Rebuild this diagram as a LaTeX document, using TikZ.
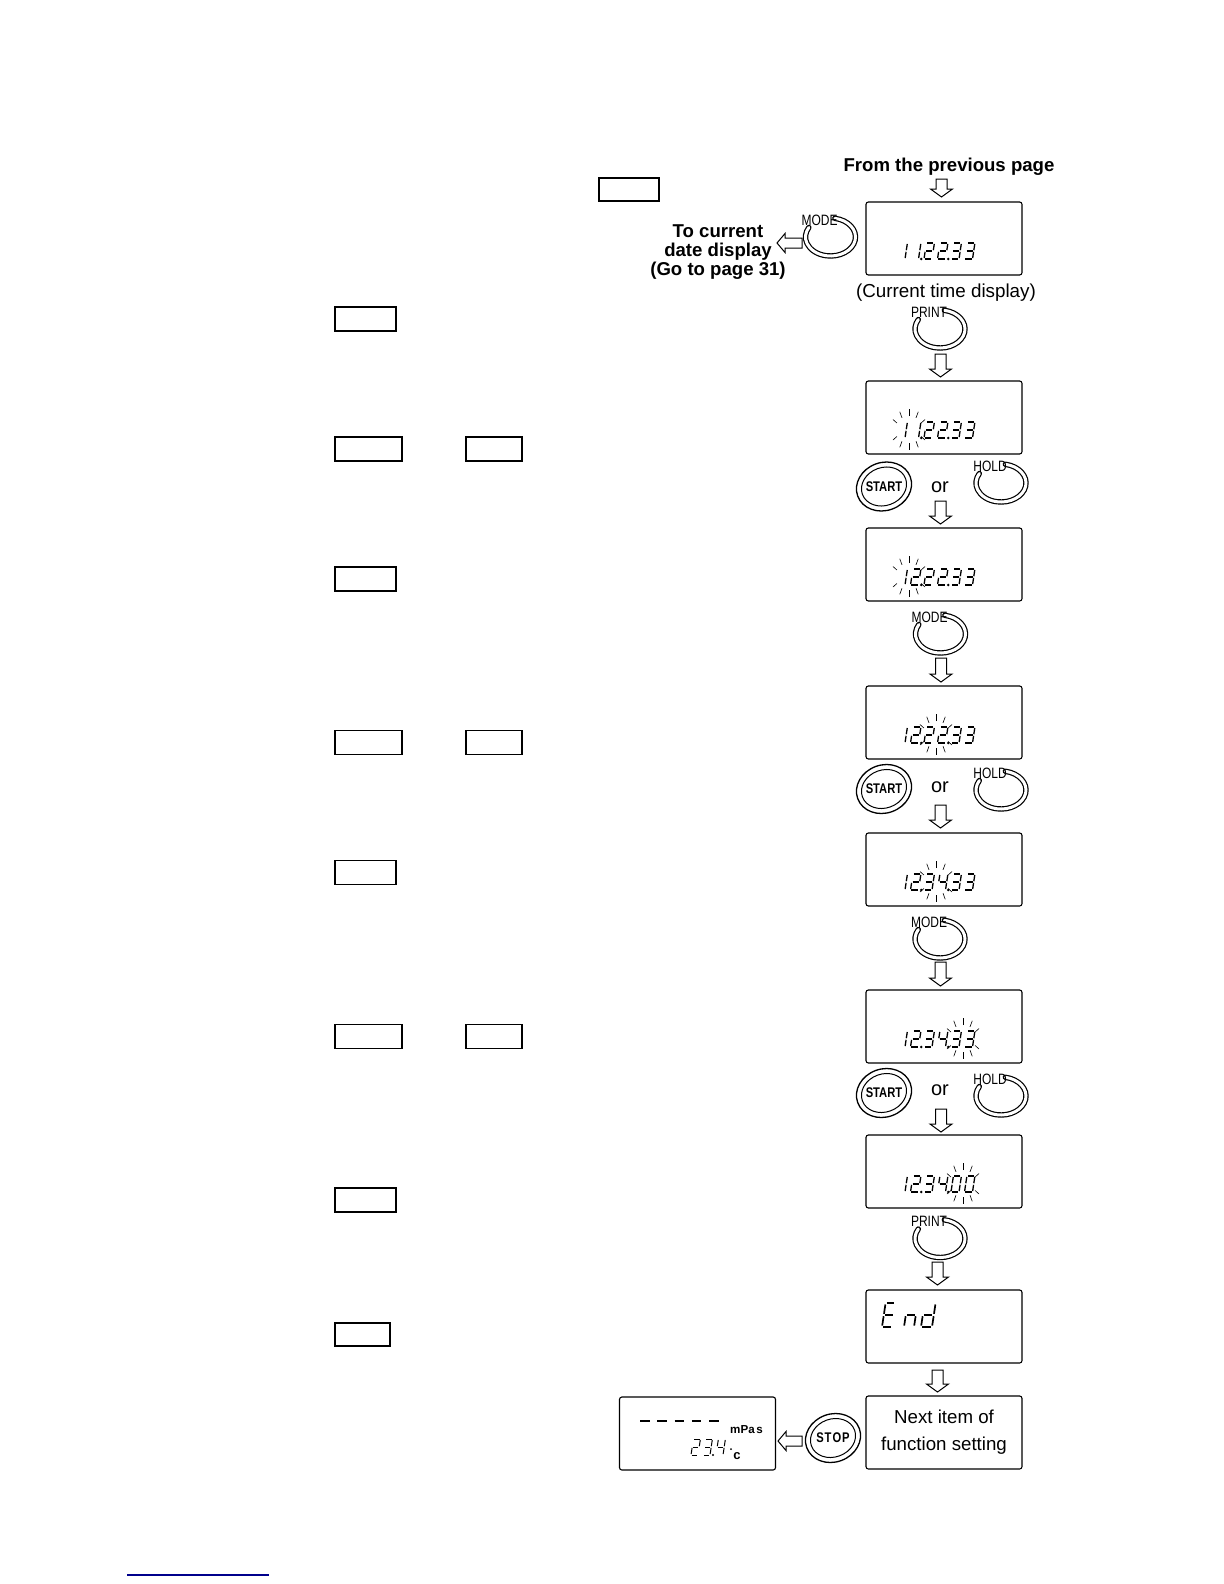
\documentclass[tikz,border=0pt]{standalone}
\usepackage{fontspec}
\setmainfont{Liberation Sans}
\usepackage{graphicx}
\usetikzlibrary{calc}
\definecolor{linkblue}{RGB}{0,0,140}
\tikzset{
 disp/.style={draw, line width=0.55pt, rounded corners=1.2pt, minimum width=78pt, minimum height=36.5pt, inner sep=0pt},
 ebox/.style={draw, line width=0.6pt, inner sep=0pt},
 blk/.style={draw, line width=0.5pt, fill=white, line join=miter},
 ringline/.style={double=white, double distance=1.5pt, line width=0.6pt, line cap=round},
 bl/.style={line width=0.3pt},
 btnlbl/.style={font=\fontsize{7.5}{8}\selectfont, inner sep=0pt},
 boldtxt/.style={font=\bfseries\fontsize{9.3}{11}\selectfont, inner sep=0pt},
 regtxt/.style={font=\fontsize{9.4}{12}\selectfont, inner sep=0pt},
 ortxt/.style={font=\fontsize{10}{12}\selectfont, inner sep=0pt},
}
\def\segXa{\draw ({0.12*\W},\H) -- ({0.88*\W},\H);}
\def\segXb{\draw (\W,{0.94*\H}) -- (\W,{0.55*\H});}
\def\segXc{\draw (\W,{0.45*\H}) -- (\W,{0.06*\H});}
\def\segXd{\draw ({0.12*\W},0) -- ({0.88*\W},0);}
\def\segXe{\draw (0,{0.45*\H}) -- (0,{0.06*\H});}
\def\segXf{\draw (0,{0.94*\H}) -- (0,{0.55*\H});}
\def\segXg{\draw ({0.12*\W},{0.5*\H}) -- ({0.88*\W},{0.5*\H});}
\newcommand\segdig[6]{%
  \begin{scope}[shift={(#1,#2)}, x=0.5pt, y=0.5pt, xslant=0.15, line width=#6]
    \def\W{#3}\def\H{#4}%
    \foreach \s in {#5}{\csname segX\s\endcsname}
  \end{scope}}
\newcommand\sixdig[7]{%
  \segdig{897}{#1}{8}{16}{#2}{0.65pt}
  \segdig{910.5}{#1}{8}{16}{#3}{0.65pt}
  \segdig{924}{#1}{8}{16}{#4}{0.65pt}
  \segdig{937.5}{#1}{8}{16}{#5}{0.65pt}
  \segdig{951}{#1}{8}{16}{#6}{0.65pt}
  \segdig{964.5}{#1}{8}{16}{#7}{0.65pt}
  \fill (921.2,#1) circle (0.7pt);
  \fill (948.2,#1) circle (0.7pt);}
\newcommand\blinkat[2]{%
  \foreach \a in {30,60,90,120,150}{
    \draw[bl] ({#1+14*cos(\a)},{#2-14*sin(\a)}) -- ({#1+18.5*cos(\a)},{#2-21*sin(\a)});
    \draw[bl] ({#1+14*cos(\a)},{#2+13*sin(\a)}) -- ({#1+18.5*cos(\a)},{#2+20*sin(\a)});
  }}
\newcommand\ringbtn[4]{%
  \draw[ringline] ({#2+25*cos(80)},{#3-19*sin(80)}) arc[start angle=80, end angle=-210, x radius=12.5pt, y radius=9.5pt];
  \node[btnlbl] (#1) at ({#2-11},{#3-17}) {\scalebox{0.8}[1]{#4}};}
\newcommand\pushbtn[4]{%
  \draw[line width=0.65pt, rotate around={20:(#2,#3)}] (#2,#3) ellipse [x radius=14pt, y radius=12pt];
  \draw[line width=0.5pt, rotate around={20:(#2,#3)}] (#2,#3) ellipse [x radius=11.5pt, y radius=9.5pt];
  \node[font=\bfseries\fontsize{7}{8}\selectfont, inner sep=0pt] (#1) at (#2,#3) {\scalebox{0.8}[1]{#4}};}
\newcommand\darr[3]{%
  \draw[blk] ({#1-5.5},#2) -- ({#1+5.5},#2) -- ({#1+5.5},{#3-8}) -- ({#1+11},{#3-8}) -- (#1,#3) -- ({#1-11},{#3-8}) -- ({#1-5.5},{#3-8}) -- cycle;}
\newcommand\larr[3]{%
  \draw[blk] (#1,{#3-5}) -- (#1,{#3+5}) -- ({#2+8},{#3+5}) -- ({#2+8},{#3+9.5}) -- (#2,#3) -- ({#2+8},{#3-9.5}) -- ({#2+8},{#3-5}) -- cycle;}
\begin{document}
\begin{tikzpicture}[x=0.5pt, y=-0.5pt]
\useasboundingbox (0,0) rectangle (1224,1584);

% empty boxes on the left
\node[ebox, minimum width=30pt, minimum height=11.5pt] (b0) at (629,189.5) {};
\node[ebox, minimum width=30.5pt, minimum height=12pt] (b1) at (365.5,319) {};
\node[ebox, minimum width=33.5pt, minimum height=12pt] (b2a) at (368.5,449) {};
\node[ebox, minimum width=28pt, minimum height=12pt] (b2b) at (494,449) {};
\node[ebox, minimum width=30.5pt, minimum height=12pt] (b3) at (365.5,579) {};
\node[ebox, minimum width=33.5pt, minimum height=12pt] (b4a) at (368.5,742.5) {};
\node[ebox, minimum width=28pt, minimum height=12pt] (b4b) at (494,742.5) {};
\node[ebox, minimum width=30.5pt, minimum height=12pt] (b5) at (365.5,872.5) {};
\node[ebox, minimum width=33.5pt, minimum height=12pt] (b6a) at (368.5,1036.5) {};
\node[ebox, minimum width=28pt, minimum height=12pt] (b6b) at (494,1036.5) {};
\node[ebox, minimum width=30.5pt, minimum height=12pt] (b7) at (365.5,1200) {};
\node[ebox, minimum width=27.5pt, minimum height=11.5pt] (b8) at (362.5,1334.5) {};

% texts
\node[boldtxt, anchor=base] (prev) at (949,171) {From the previous page};
\node[boldtxt, anchor=base] (tc1) at (718,237) {To current};
\node[boldtxt, anchor=base] (tc2) at (718,256) {date display};
\node[boldtxt, anchor=base] (tc3) at (718,275) {(Go to page 31)};
\node[regtxt, anchor=base] (cap) at (946,297) {(Current time display)};

% displays
\node[disp] (d1) at (944,238.5) {};
\node[disp] (d2) at (944,417.5) {};
\node[disp] (d3) at (944,564.5) {};
\node[disp] (d4) at (944,722.5) {};
\node[disp] (d5) at (944,869.5) {};
\node[disp] (d6) at (944,1026.5) {};
\node[disp] (d7) at (944,1171.5) {};
\node[disp] (d8) at (944,1326.5) {};
\node[disp, align=center, font=\fontsize{9.35}{13.5}\selectfont] (nxt) at (944,1432.5) {Next item of\\function setting};
\node[disp] (d9) at (697.5,1433.5) {};

% digits
\sixdig{259}{b,c}{b,c}{a,b,d,e,g}{a,b,d,e,g}{a,b,c,d,g}{a,b,c,d,g}
\sixdig{438}{b,c}{b,c}{a,b,d,e,g}{a,b,d,e,g}{a,b,c,d,g}{a,b,c,d,g}
\sixdig{585}{b,c}{a,b,d,e,g}{a,b,d,e,g}{a,b,d,e,g}{a,b,c,d,g}{a,b,c,d,g}
\sixdig{743}{b,c}{a,b,d,e,g}{a,b,d,e,g}{a,b,d,e,g}{a,b,c,d,g}{a,b,c,d,g}
\sixdig{890}{b,c}{a,b,d,e,g}{a,b,c,d,g}{b,c,f,g}{a,b,c,d,g}{a,b,c,d,g}
\sixdig{1047}{b,c}{a,b,d,e,g}{a,b,c,d,g}{b,c,f,g}{a,b,c,d,g}{a,b,c,d,g}
\sixdig{1192}{b,c}{a,b,d,e,g}{a,b,c,d,g}{b,c,f,g}{a,b,c,d,e,f}{a,b,c,d,e,f}
\blinkat{909}{430}
\blinkat{909}{577}
\blinkat{936}{735}
\blinkat{936}{882}
\blinkat{963}{1039}
\blinkat{963}{1184}

% End
\segdig{882}{1327}{10}{24}{a,d,e,f,g}{0.85pt}
\segdig{904}{1327}{10}{24}{c,e,g}{0.85pt}
\segdig{921}{1327}{11}{24}{b,c,d,e,g}{0.85pt}

% bottom-left display
\foreach \i in {0,...,4}{\draw[line width=1.3pt] ({640+17.3*\i},1421) -- ({649.5+17.3*\i},1421);}
\node[font=\bfseries\fontsize{5.8}{7}\selectfont, inner sep=0pt, anchor=base] (mpas) at (746.5,1433) {mPa\kern0.8pt s};
\segdig{691}{1455}{7}{16}{a,b,d,e,g}{0.5pt}
\segdig{703}{1455}{7}{16}{a,b,c,d,g}{0.5pt}
\fill (713,1455) circle (0.6pt);
\segdig{716}{1455}{7}{16}{b,c,f,g}{0.5pt}
\fill (731,1449) circle (0.5pt);
\node[font=\bfseries\fontsize{6.5}{7}\selectfont, inner sep=0pt, anchor=base west] (degc) at (733,1459) {c};

% buttons
\ringbtn{mode1}{830.5}{237}{MODE}
\ringbtn{print1}{940}{329}{PRINT}
\pushbtn{start1}{884}{486.5}{START}
\node[ortxt, anchor=base] (or1) at (940,492) {or};
\ringbtn{hold1}{1001}{483}{HOLD}
\ringbtn{mode2}{940.5}{634}{MODE}
\pushbtn{start2}{884}{789}{START}
\node[ortxt, anchor=base] (or2) at (940,792) {or};
\ringbtn{hold2}{1001}{790}{HOLD}
\ringbtn{mode3}{940}{939}{MODE}
\pushbtn{start3}{884}{1093}{START}
\node[ortxt, anchor=base] (or3) at (940,1095) {or};
\ringbtn{hold3}{1001}{1096}{HOLD}
\ringbtn{print2}{940}{1238.5}{PRINT}
\pushbtn{stop}{833}{1438}{S\kern0.6pt T\kern0.6pt O\kern0.6pt P}

% block arrows
\darr{941.5}{179}{197}
\darr{940.5}{354}{377}
\darr{940.5}{501}{524}
\darr{941}{658}{682}
\darr{940.5}{805}{828}
\darr{940.5}{962}{986}
\darr{941}{1109}{1132}
\darr{937.5}{1262}{1285}
\darr{937.5}{1370}{1392}
\larr{802}{777}{243}
\larr{802}{778}{1441}

% link underline
\draw[linkblue, line width=0.7pt] (127,1575) -- (269,1575);
\end{tikzpicture}
\end{document}
